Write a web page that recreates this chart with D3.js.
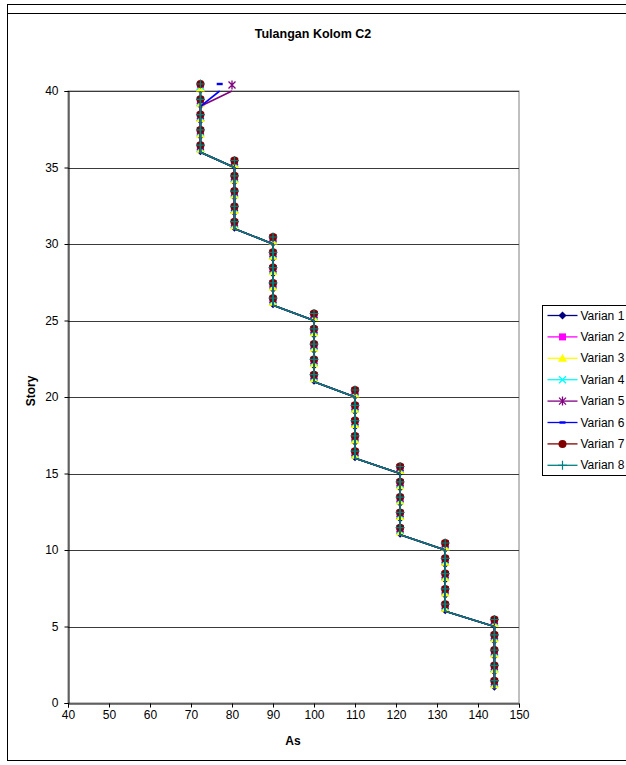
<!DOCTYPE html>
<html>
<head>
<meta charset="utf-8">
<script src="https://cdn.jsdelivr.net/npm/d3@7"></script>
<style>
  body { margin: 0; background: #fff; }
  text { font-family: "Liberation Sans", Arial, sans-serif; fill: #000; }
</style>
</head>
<body>
<svg id="chart" width="626" height="765"></svg>
<script>
// ---- data ----
const stories = [1, 2, 3, 4, 5, 6, 7, 8, 9, 10, 11, 12, 13, 14, 15, 16, 17, 18, 19, 20,
                 21, 22, 23, 24, 25, 26, 27, 28, 29, 30, 31, 32, 33, 34, 35, 36, 37, 38, 39, 40];

const varian1 = [144, 144, 144, 144, 144, 132, 132, 132, 132, 132, 121, 121, 121, 121, 121, 110, 110, 110, 110, 110,
                 100, 100, 100, 100, 100, 90, 90, 90, 90, 90, 80.6, 80.6, 80.6, 80.6, 80.6, 72.3, 72.3, 72.3, 72.3, 72.3];
const varian2 = [144, 144, 144, 144, 144, 132, 132, 132, 132, 132, 121, 121, 121, 121, 121, 110, 110, 110, 110, 110,
                 100, 100, 100, 100, 100, 90, 90, 90, 90, 90, 80.6, 80.6, 80.6, 80.6, 80.6, 72.3, 72.3, 72.3, 72.3, 72.3];
const varian3 = [144, 144, 144, 144, 144, 132, 132, 132, 132, 132, 121, 121, 121, 121, 121, 110, 110, 110, 110, 110,
                 100, 100, 100, 100, 100, 90, 90, 90, 90, 90, 80.6, 80.6, 80.6, 80.6, 80.6, 72.3, 72.3, 72.3, 72.3, 72.3];
const varian4 = [144, 144, 144, 144, 144, 132, 132, 132, 132, 132, 121, 121, 121, 121, 121, 110, 110, 110, 110, 110,
                 100, 100, 100, 100, 100, 90, 90, 90, 90, 90, 80.6, 80.6, 80.6, 80.6, 80.6, 72.3, 72.3, 72.3, 72.3, 72.3];
const varian5 = [144, 144, 144, 144, 144, 132, 132, 132, 132, 132, 121, 121, 121, 121, 121, 110, 110, 110, 110, 110,
                 100, 100, 100, 100, 100, 90, 90, 90, 90, 90, 80.6, 80.6, 80.6, 80.6, 80.6, 72.3, 72.3, 72.3, 72.3, 80];
const varian6 = [144, 144, 144, 144, 144, 132, 132, 132, 132, 132, 121, 121, 121, 121, 121, 110, 110, 110, 110, 110,
                 100, 100, 100, 100, 100, 90, 90, 90, 90, 90, 80.6, 80.6, 80.6, 80.6, 80.6, 72.3, 72.3, 72.3, 72.3, 77];
const varian7 = [144, 144, 144, 144, 144, 132, 132, 132, 132, 132, 121, 121, 121, 121, 121, 110, 110, 110, 110, 110,
                 100, 100, 100, 100, 100, 90, 90, 90, 90, 90, 80.6, 80.6, 80.6, 80.6, 80.6, 72.3, 72.3, 72.3, 72.3, 72.3];
const varian8 = [144, 144, 144, 144, 144, 132, 132, 132, 132, 132, 121, 121, 121, 121, 121, 110, 110, 110, 110, 110,
                 100, 100, 100, 100, 100, 90, 90, 90, 90, 90, 80.6, 80.6, 80.6, 80.6, 80.6, 72.3, 72.3, 72.3, 72.3, 72.3];

const seriesNames = ["Varian 1", "Varian 2", "Varian 3", "Varian 4", "Varian 5", "Varian 6", "Varian 7", "Varian 8"];
const seriesValues = [varian1, varian2, varian3, varian4, varian5, varian6, varian7, varian8];
const xTicks = [40, 50, 60, 70, 80, 90, 100, 110, 120, 130, 140, 150];
const yTicks = [0, 5, 10, 15, 20, 25, 30, 35, 40];

// ---- styles ----
const colors = ["#000080", "#ff00ff", "#ffff00", "#00ffff", "#800080", "#0000ff", "#800000", "#008080"];
const markerKinds = ["diamond", "square", "triangle", "x", "star", "dash", "circle", "plus"];
// excel draws the markers a few px above the data point in this picture
const markerShift = [-1, -5, -3, -5, -6, -7, -7, -7];

const svg = d3.select("#chart");

// outer frame
svg.append("line").attr("x1", 7).attr("x2", 626).attr("y1", 4.5).attr("y2", 4.5)
  .attr("stroke", "#000").attr("stroke-width", 1);
svg.append("line").attr("x1", 7.5).attr("x2", 7.5).attr("y1", 4).attr("y2", 14)
  .attr("stroke", "#000").attr("stroke-width", 1);
svg.append("rect").attr("x", 7.5).attr("y", 13.5).attr("width", 640).attr("height", 747)
  .attr("fill", "none").attr("stroke", "#000").attr("stroke-width", 1);

const x = d3.scaleLinear().domain([40, 150]).range([68, 519]);
const y = d3.scaleLinear().domain([0, 40]).range([703, 91]);

// plot area border
svg.append("rect")
  .attr("x", x(40)).attr("y", y(40))
  .attr("width", x(150) - x(40)).attr("height", y(0) - y(40))
  .attr("fill", "none").attr("stroke", "#808080").attr("stroke-width", 1);

// gridlines
svg.append("g").selectAll("line")
  .data(yTicks.filter(d => d > 0))
  .enter().append("line")
  .attr("x1", x(40)).attr("x2", x(150))
  .attr("y1", d => Math.round(y(d)) + 0.5).attr("y2", d => Math.round(y(d)) + 0.5)
  .attr("stroke", "#3a3a3a").attr("stroke-width", 1);

// axes
const xAxis = svg.append("g")
  .attr("transform", "translate(0," + (Math.round(y(0)) + 0.5) + ")")
  .call(d3.axisBottom(x).tickValues(xTicks).tickSize(4).tickPadding(3).tickFormat(d3.format("d")));
const yAxis = svg.append("g")
  .attr("transform", "translate(" + (Math.round(x(40)) + 0.5) + ",0)")
  .call(d3.axisLeft(y).tickValues(yTicks).tickSize(4).tickPadding(6).tickFormat(d3.format("d")));
[xAxis, yAxis].forEach(function(a) {
  a.select(".domain").attr("stroke", "#000");
  a.selectAll(".tick line").attr("stroke", "#000");
  a.selectAll(".tick text").attr("font-size", 12)
    .attr("font-family", "'Liberation Sans', Arial, sans-serif").attr("fill", "#000");
});

// titles
svg.append("text").attr("x", 313).attr("y", 38).attr("text-anchor", "middle")
  .attr("font-size", 12.5).attr("font-weight", "bold").text("Tulangan Kolom C2");
svg.append("text").attr("x", 293).attr("y", 745).attr("text-anchor", "middle")
  .attr("font-size", 12).attr("font-weight", "bold").text("As");
svg.append("text").attr("transform", "translate(35,391) rotate(-90)").attr("text-anchor", "middle")
  .attr("font-size", 12).attr("font-weight", "bold").text("Story");

// marker drawing
function drawMarker(g, kind, color) {
  if (kind === "diamond") {
    g.append("path").attr("d", "M0,-4L4,0L0,4L-4,0Z").attr("fill", color);
  } else if (kind === "square") {
    g.append("rect").attr("x", -3.5).attr("y", -3.5).attr("width", 7).attr("height", 7).attr("fill", color);
  } else if (kind === "triangle") {
    g.append("path").attr("d", "M0,-4.5L4.5,3.5L-4.5,3.5Z").attr("fill", color);
  } else if (kind === "x") {
    g.append("path").attr("d", "M-3.5,-3.5L3.5,3.5M3.5,-3.5L-3.5,3.5")
      .attr("stroke", color).attr("stroke-width", 1.3).attr("fill", "none");
  } else if (kind === "star") {
    g.append("path").attr("d", "M-3.5,-3.5L3.5,3.5M3.5,-3.5L-3.5,3.5M0,-4.5V4.5")
      .attr("stroke", color).attr("stroke-width", 1.3).attr("fill", "none");
  } else if (kind === "dash") {
    g.append("rect").attr("x", -3).attr("y", -1.2).attr("width", 6).attr("height", 2.4).attr("fill", color);
  } else if (kind === "circle") {
    g.append("circle").attr("r", 4).attr("fill", color);
  } else if (kind === "plus") {
    g.append("path").attr("d", "M-4.5,0H4.5M0,-4.5V4.5")
      .attr("stroke", color).attr("stroke-width", 1.2).attr("fill", "none");
  }
}

const line = d3.line().x(d => x(d.as)).y(d => y(d.story));

seriesValues.forEach(function(vals, i) {
  const pts = stories.map((s, k) => ({ story: s, as: vals[k] }));
  const g = svg.append("g").attr("class", "series series-" + i);
  g.append("path").datum(pts)
    .attr("d", line)
    .attr("fill", "none")
    .attr("stroke", colors[i])
    .attr("stroke-width", 1.6);
  const marks = g.selectAll("g.mk")
    .data(pts)
    .enter().append("g")
    .attr("class", "mk")
    .attr("transform", d => "translate(" + x(d.as) + "," + (y(d.story) + markerShift[i]) + ")");
  marks.each(function() { drawMarker(d3.select(this), markerKinds[i], colors[i]); });
});

// legend
const legend = svg.append("g").attr("transform", "translate(542.5,305.5)");
legend.append("rect").attr("width", 100).attr("height", 170)
  .attr("fill", "#fff").attr("stroke", "#000").attr("stroke-width", 1);
const items = legend.selectAll("g.item")
  .data(seriesNames)
  .enter().append("g")
  .attr("class", "item")
  .attr("transform", (d, i) => "translate(0," + (10 + i * 21.4) + ")");
items.append("line").attr("x1", 5).attr("x2", 35).attr("y1", 0).attr("y2", 0)
  .attr("stroke", (d, i) => colors[i]).attr("stroke-width", 1.3);
items.each(function(d, i) {
  drawMarker(d3.select(this).append("g").attr("transform", "translate(20,0)"), markerKinds[i], colors[i]);
});
items.append("text").attr("x", 38).attr("y", 4).attr("font-size", 12).text(d => d);
</script>
</body>
</html>
